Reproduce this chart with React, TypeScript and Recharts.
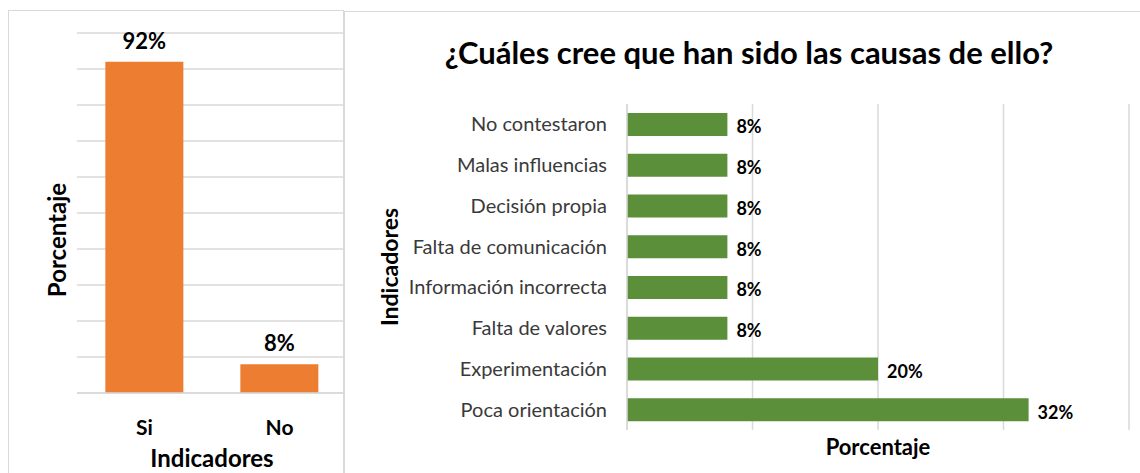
import { BarChart, Bar, XAxis, YAxis, CartesianGrid, LabelList } from 'recharts';

// gráfico izquierdo: ¿respuesta?
const respuestas = ['Si', 'No'];
const porcentajeRespuestas = [92, 8];
const ticksRespuestas = [0, 10, 20, 30, 40, 50, 60, 70, 80, 90, 100];

// gráfico derecho: causas
const causas = [
  'No contestaron',
  'Malas influencias',
  'Decisión propia',
  'Falta de comunicación',
  'Información incorrecta',
  'Falta de valores',
  'Experimentación',
  'Poca orientación',
];
const porcentajeCausas = [8, 8, 8, 8, 8, 8, 20, 32];
const ticksCausas = [0, 10, 20, 30, 40];

const FONT = "Lato, 'Open Sans', sans-serif";
const GRID = '#d9d9d9';

const dataRespuestas = respuestas.map((name, i) => ({ name, value: porcentajeRespuestas[i] }));
const dataCausas = causas.map((name, i) => ({ name, value: porcentajeCausas[i] }));

function TickRespuesta({ x, y, payload }: any) {
  return (
    <text x={x} y={y + 42} textAnchor="middle" fontSize={21} fontWeight={700} fill="#000" fontFamily={FONT}>
      {payload.value}
    </text>
  );
}

function EtiquetaArriba({ x, y, width, value }: any) {
  return (
    <text x={x + width / 2} y={y - 13} textAnchor="middle" fontSize={22} fontWeight={700} fill="#000" fontFamily={FONT}>
      {value}%
    </text>
  );
}

function EtiquetaDerecha({ x, y, width, height, value }: any) {
  return (
    <text x={x + width + 9} y={y + height / 2 + 9} textAnchor="start" fontSize={18} fontWeight={700} fill="#000" fontFamily={FONT}>
      {value}%
    </text>
  );
}

export default function App() {
  return (
    <div style={{ position: 'absolute', left: 0, top: 0, width: 1140, height: 473, overflow: 'hidden', background: '#fff' }}>
      {/* marco izquierdo */}
      <div
        style={{
          position: 'absolute',
          left: 8,
          top: 10,
          width: 335,
          height: 500,
          borderLeft: `1.5px solid ${GRID}`,
          borderTop: `1.5px solid ${GRID}`,
        }}
      />

      <div style={{ position: 'absolute', left: 0, top: 0 }}>
        <BarChart
          width={350}
          height={473}
          data={dataRespuestas}
          margin={{ top: 33, right: 3, bottom: 0, left: 77 }}
          barCategoryGap="21%"
        >
          <CartesianGrid vertical={false} stroke={GRID} strokeWidth={1.5} />
          <YAxis hide type="number" domain={[0, 100]} ticks={ticksRespuestas} />
          <XAxis
            dataKey="name"
            height={80}
            tickSize={0}
            tickMargin={0}
            axisLine={{ stroke: GRID, strokeWidth: 1.5 }}
            tickLine={false}
            tick={<TickRespuesta />}
          />
          <Bar dataKey="value" fill="#ED7D31" isAnimationActive={false}>
            <LabelList dataKey="value" content={<EtiquetaArriba />} />
          </Bar>
        </BarChart>
      </div>

      {/* marco derecho */}
      <div
        style={{
          position: 'absolute',
          left: 343,
          top: 11,
          width: 820,
          height: 500,
          background: '#fff',
          borderLeft: `2px solid ${GRID}`,
          borderTop: `1.5px solid ${GRID}`,
        }}
      />

      <div style={{ position: 'absolute', left: 343, top: 0 }}>
        <BarChart
          width={797}
          height={473}
          data={dataCausas}
          layout="vertical"
          margin={{ top: 104, right: 11, bottom: 43, left: 0 }}
          barCategoryGap="22%"
        >
          <CartesianGrid horizontal={false} stroke={GRID} strokeWidth={1.5} />
          <XAxis hide type="number" domain={[0, 40]} ticks={ticksCausas} />
          <YAxis
            type="category"
            dataKey="name"
            width={284}
            tickSize={0}
            tickMargin={20}
            axisLine={{ stroke: GRID, strokeWidth: 1.5 }}
            tickLine={false}
            tick={{ fontSize: 20, fill: '#3a3a3a', fontFamily: FONT }}
          />
          <Bar dataKey="value" fill="#5B8F3A" isAnimationActive={false}>
            <LabelList dataKey="value" content={<EtiquetaDerecha />} />
          </Bar>
        </BarChart>
      </div>

      {/* títulos */}
      <svg width={1140} height={473} style={{ position: 'absolute', left: 0, top: 0, pointerEvents: 'none' }} fontFamily={FONT}>
        <text x={749} y={64} textAnchor="middle" fontSize={31} fontWeight={700} fill="#000">
          ¿Cuáles cree que han sido las causas de ello?
        </text>
        <text
          x={0}
          y={0}
          transform="translate(56 240) rotate(-90)"
          textAnchor="middle"
          dominantBaseline="central"
          fontSize={24}
          fontWeight={700}
          fill="#000"
        >
          Porcentaje
        </text>
        <text x={212} y={467} textAnchor="middle" fontSize={24} fontWeight={700} fill="#000">
          Indicadores
        </text>
        <text
          x={0}
          y={0}
          transform="translate(389 267) rotate(-90)"
          textAnchor="middle"
          dominantBaseline="central"
          fontSize={23}
          fontWeight={700}
          fill="#000"
        >
          Indicadores
        </text>
        <text x={878} y={455} textAnchor="middle" fontSize={22} fontWeight={700} fill="#000">
          Porcentaje
        </text>
      </svg>
    </div>
  );
}
